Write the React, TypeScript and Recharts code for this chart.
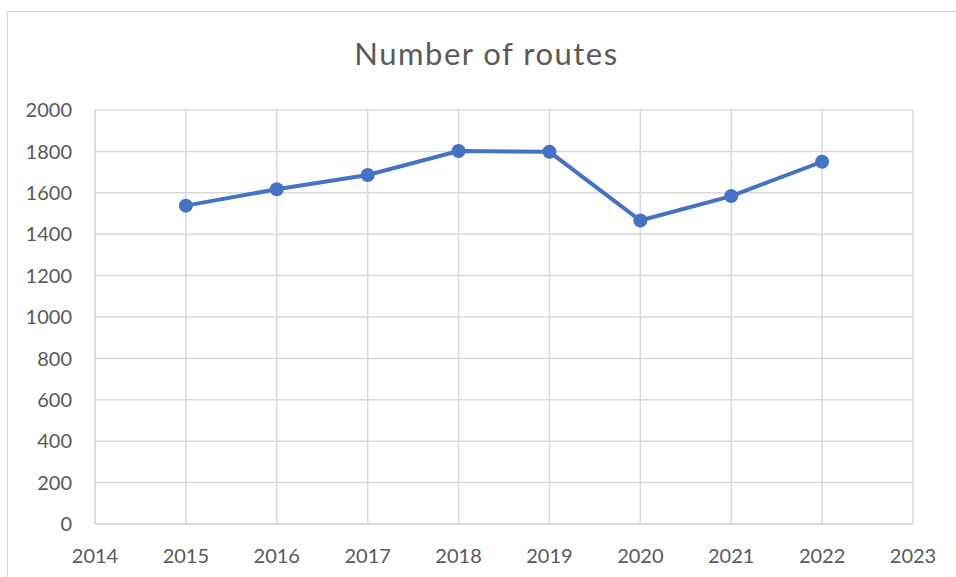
import React from 'react';
import { LineChart, Line, XAxis, YAxis, CartesianGrid } from 'recharts';

const years = [2015, 2016, 2017, 2018, 2019, 2020, 2021, 2022];
const routes = [1538, 1617, 1686, 1802, 1798, 1466, 1584, 1750];
const xTicks = [2014, 2015, 2016, 2017, 2018, 2019, 2020, 2021, 2022, 2023];
const yTicks = [0, 200, 400, 600, 800, 1000, 1200, 1400, 1600, 1800, 2000];

const data = years.map((year, i) => ({ year, routes: routes[i] }));

const FONT = 'Lato, "Open Sans", sans-serif';
const GRID = '#D9D9D9';
const TEXT = '#595959';
const BLUE = '#4472C4';

const App: React.FC = () => {
  return (
    <div style={{ position: 'absolute', left: 0, top: 0, width: 956, height: 577, overflow: 'hidden', background: '#fff' }}>
      <div style={{ position: 'absolute', left: 7, top: 11, width: 980, height: 600, border: `1px solid ${GRID}` }} />
      <div
        style={{
          position: 'absolute', left: 0, top: 38, width: 973, textAlign: 'center',
          fontFamily: FONT, fontSize: 31, lineHeight: '31px', letterSpacing: 1.5, color: TEXT,
        }}
      >
        Number of routes
      </div>
      <div style={{ position: 'absolute', left: 0, top: 0 }}>
        <LineChart width={956} height={577} data={data} margin={{ top: 110, right: 43, bottom: 0, left: 15 }}>
          <CartesianGrid stroke={GRID} strokeWidth={1.5} />
          <XAxis
            dataKey="year"
            type="number"
            domain={[2014, 2023]}
            ticks={xTicks}
            height={53}
            axisLine={{ stroke: GRID, strokeWidth: 1.5 }}
            tickLine={false}
            tickSize={0}
            tickMargin={25}
            tick={{ fill: TEXT, fontSize: 20, fontFamily: FONT }}
            interval={0}
          />
          <YAxis
            type="number"
            domain={[0, 2000]}
            ticks={yTicks}
            width={80}
            axisLine={{ stroke: GRID, strokeWidth: 1.5 }}
            tickLine={false}
            tickSize={0}
            tickMargin={23}
            tick={{ fill: TEXT, fontSize: 20, fontFamily: FONT }}
            interval={0}
          />
          <Line
            type="linear"
            dataKey="routes"
            stroke={BLUE}
            strokeWidth={4}
            dot={{ r: 7, fill: BLUE, stroke: 'none' }}
            isAnimationActive={false}
          />
        </LineChart>
      </div>
    </div>
  );
};

export default App;
